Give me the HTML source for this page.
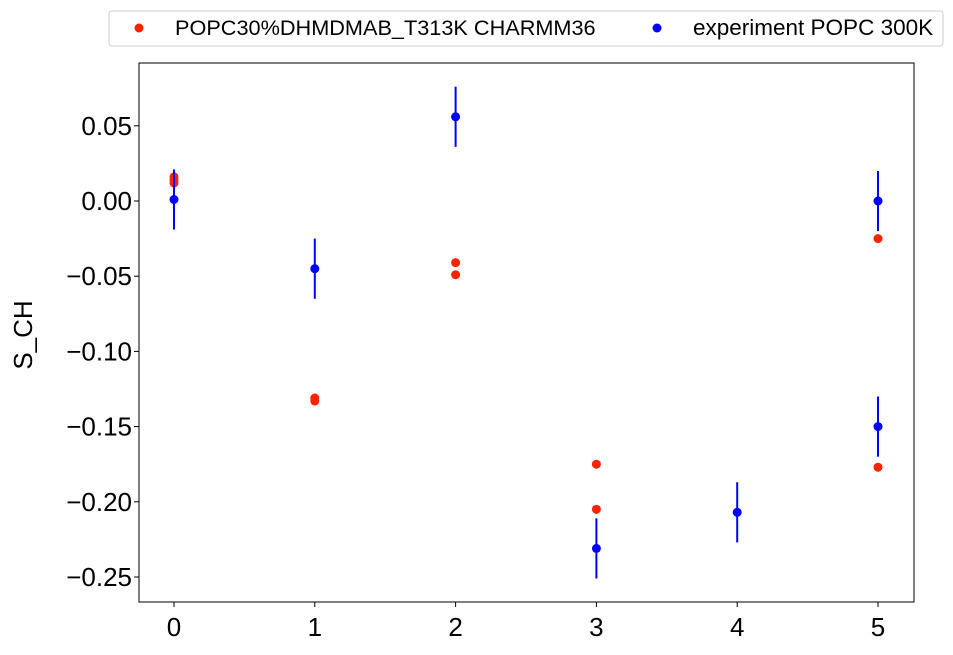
<!DOCTYPE html>
<html><head><meta charset="utf-8"><style>
body{margin:0;background:#fff;font-family:"Liberation Sans","DejaVu Sans",sans-serif}
svg text{font-family:"Liberation Sans","DejaVu Sans",sans-serif}
</style></head><body>
<svg id="chart" width="953" height="650"></svg>
<script>
const simX = [0,0,0,1,1,2,2,3,3,5,5];
const simY = [0.016,0.014,0.012,-0.131,-0.133,-0.041,-0.049,-0.175,-0.205,-0.025,-0.177];
const simErr = [0.001,0.001,0.001,0.001,0.001,0.001,0.001,0.002,0.001,0.001,0.002];
const expX = [0,1,2,3,4,5,5];
const expY = [0.001,-0.045,0.056,-0.231,-0.207,0.0,-0.150];
const expErr = [0.02,0.02,0.02,0.02,0.02,0.02,0.02];
const xTicks = [0,1,2,3,4,5];
const yTicks = [0.05,0,-0.05,-0.10,-0.15,-0.20,-0.25];
const yTickLabels = ["0.05","0.00","\u22120.05","\u22120.10","\u22120.15","\u22120.20","\u22120.25"];
const legendLabels = ["POPC30%DHMDMAB_T313K CHARMM36","experiment POPC 300K"];

const NS="http://www.w3.org/2000/svg";
const svg=document.getElementById('chart');
const L=139,R=914,T=63,B=602;
const xs=v=>174+v*140.8;
const ys=v=>201-v*1504;
function mk(tag,attrs,parent){const e=document.createElementNS(NS,tag);for(const k in attrs)e.setAttribute(k,attrs[k]);(parent||svg).appendChild(e);return e;}

const frame=mk('rect',{x:L,y:T,width:R-L,height:B-T,fill:'none',stroke:'#000','stroke-width':1});



xTicks.forEach(t=>{
  const ln=mk('line',{x1:xs(t),x2:xs(t),y1:B,y2:B+5,stroke:'#000'});
  
  
  const tx=mk('text',{x:xs(t),y:B+34,'text-anchor':'middle','font-size':26});
  tx.textContent=t;
  
  
});
yTicks.forEach((t,i)=>{
  const ln=mk('line',{x1:L-5,x2:L,y1:ys(t),y2:ys(t),stroke:'#000'});
  
  
  const tx=mk('text',{x:L-7,y:ys(t)+9,'text-anchor':'end','font-size':26});
  tx.textContent=yTickLabels[i];
  
  
});
const yt=mk('text',{x:32,y:335,'text-anchor':'middle','font-size':26,transform:'rotate(-90 32 335)'});
yt.textContent='S_CH';



function series(X,Y,E,color,name){
  X.forEach((x,i)=>{
    const eb=mk('line',{x1:xs(x),x2:xs(x),y1:ys(Y[i]+E[i]),y2:ys(Y[i]-E[i]),stroke:color,'stroke-width':2});
    
    
    const c=mk('circle',{cx:xs(x),cy:ys(Y[i]),r:4.5,fill:color});
    
    
  });
}
series(simX,simY,simErr,'#ff2200','simulation');
series(expX,expY,expErr,'#0000ff','experiment');

const lg=mk('rect',{x:109,y:11,width:834,height:35,rx:3,fill:'#fff',stroke:'#ccc'});


const lc1=mk('circle',{cx:139,cy:28,r:4.5,fill:'#ff2200'});


const lt1=mk('text',{x:175,y:35,'font-size':21.7});
lt1.textContent=legendLabels[0];


const lc2=mk('circle',{cx:657,cy:28,r:4.5,fill:'#0000ff'});


const lt2=mk('text',{x:693,y:35,'font-size':22.5});
lt2.textContent=legendLabels[1];


</script>
</body></html>
